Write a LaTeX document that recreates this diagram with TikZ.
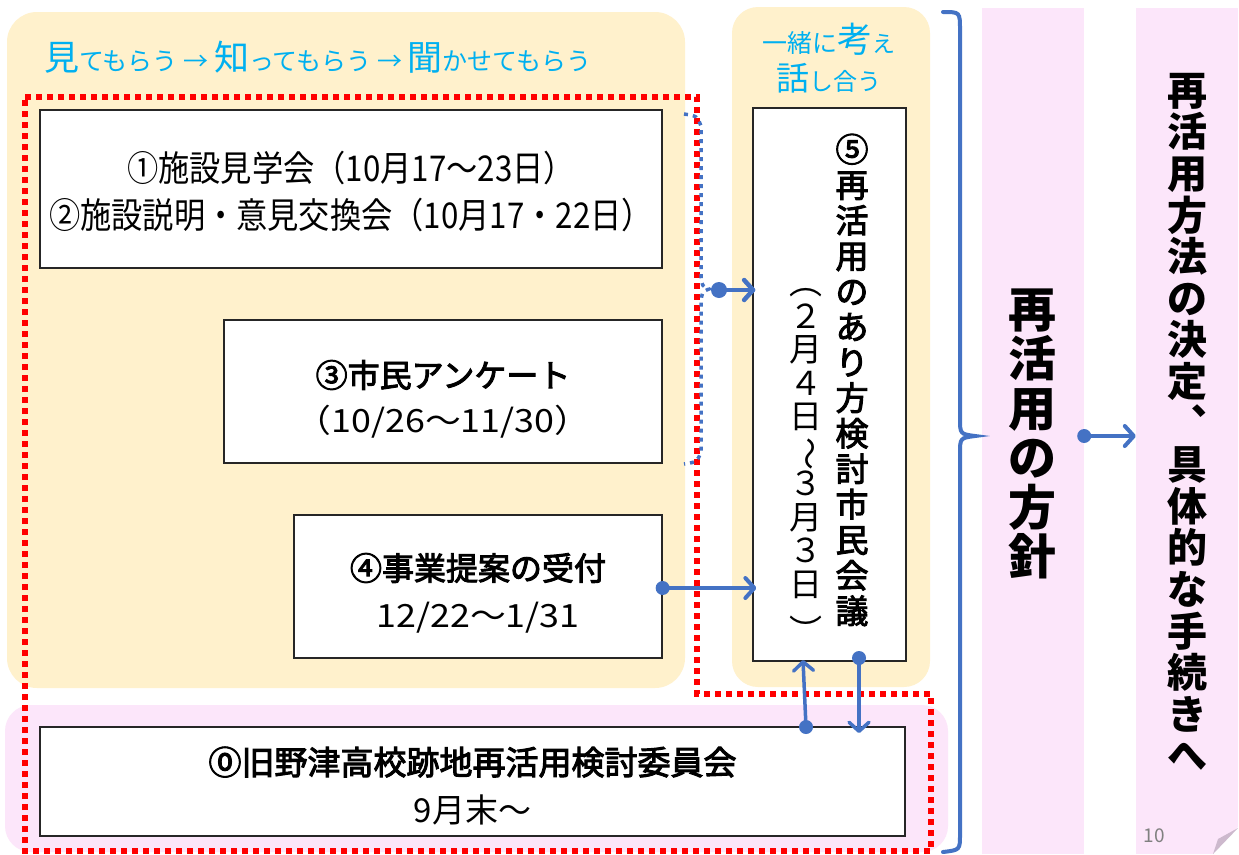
\documentclass[tikz,border=0pt]{standalone}
\usepackage{fontspec}
\setmainfont{Noto Sans CJK JP}
\newfontfamily\condjp[FakeStretch=0.88]{Noto Sans CJK JP}
\newfontfamily\widejp[FakeStretch=1.12]{Noto Sans CJK JP}
\newfontfamily\medjp[FakeBold=3]{Noto Sans CJK JP}
\usetikzlibrary{arrows.meta}
\definecolor{beige}{HTML}{FFF1CC}
\definecolor{pinkbg}{HTML}{FCE6FA}
\definecolor{myblue}{HTML}{4472C4}
\definecolor{mycyan}{HTML}{00B0F0}
\definecolor{foldc}{HTML}{CDB9CD}
\definecolor{dotred}{HTML}{FF0000}
\tikzset{
  box/.style={draw=black!85, line width=1.3pt, fill=white, inner sep=0pt},
  boxtxt/.style={align=center, inner sep=0pt, text=black},
  vcol/.style={align=center, inner sep=0pt, text=black},
  conn/.style={draw=myblue, line width=4.5pt, line cap=round,
    -{Straight Barb[length=9pt,width=20pt,round]}},
  bdot/.style={fill=myblue},
  redline/.style={draw=dotred, line width=6pt, dash pattern=on 6pt off 5pt},
}
\newcommand{\fs}[2]{\fontsize{#1}{#2}\selectfont\lineskiplimit=-50pt\relax}
\begin{document}
\begin{tikzpicture}[x=1pt,y=-1pt]
\fill[white] (0,0) rectangle (1239,854);
\useasboundingbox (0,0) rectangle (1239,854);

% background panels
\fill[beige, rounded corners=30pt] (7,12) rectangle (685,688);
\fill[beige, rounded corners=26pt] (732,7) rectangle (930,687);
\fill[pinkbg, rounded corners=26pt] (5,705) rectangle (948,852);
\node[fill=pinkbg, inner sep=0, minimum width=102pt, minimum height=846pt] (pc1) at (1033,431) {};
\node[fill=pinkbg, inner sep=0, minimum width=102pt, minimum height=846pt] (pc2) at (1187,431) {};
\fill[white] (1213,854) -- (1239,854) -- (1239,826) -- cycle;
\fill[foldc] (1213,854) -- (1218,839) -- (1238,828) -- cycle;
\node[text=black!50, font=\fs{19}{19}, inner sep=0] (pg) at (1154,836) {10};

% headings
\node[anchor=base west, text=mycyan, inner sep=0] (head1) at (44,70)
  {\fs{35}{35}見\fs{25}{25}てもらう → \fs{35}{35}知\fs{25}{25}ってもらう → \fs{35}{35}聞\fs{25}{25}かせてもらう};
\node[anchor=base, text=mycyan, inner sep=0] (head2) at (829,52)
  {\fs{25}{25}一緒に\fs{35}{35}考\fs{23}{23}え};
\node[anchor=base, text=mycyan, inner sep=0] (head3) at (829,90)
  {\fs{33}{33}話\fs{24}{24}し合う};

% boxes
\node[box, minimum width=622pt, minimum height=158pt] (b1) at (351,189) {};
\node[boxtxt, font=\condjp\fs{35.5}{47}] (t1) at (351,192)
  {①施設見学会（10月17～23日）\\②施設説明・意見交換会（10月17・22日）};
\node[box, minimum width=438pt, minimum height=143pt] (b3) at (443,391.5) {};
\node[boxtxt, font=\fs{32}{45}] (t3) at (443,399)
  {{\medjp ③市民アンケート}\\{\widejp （10/26～11/30）}};
\node[box, minimum width=368pt, minimum height=143pt] (b4) at (478,586.5) {};
\node[boxtxt, font=\fs{32}{47}] (t4) at (478,593)
  {{\medjp ④事業提案の受付}\\{\widejp 12/22～1/31}};
\node[box, minimum width=865pt, minimum height=109pt] (b0) at (472.5,781.5) {};
\node[boxtxt, font=\fs{33}{48}] (t0) at (472.5,786)
  {{\medjp ⓪旧野津高校跡地再活用検討委員会}\\{9月末～}};
\node[box, minimum width=153pt, minimum height=553pt] (b5) at (829.5,384.5) {};
\node[vcol, font=\medjp\fs{33}{35.5}] (t5a) at (852,380)
  {⑤\\再\\活\\用\\の\\あ\\り\\方\\検\\討\\市\\民\\会\\議};
\node[vcol, font=\fs{33}{33.5}] (t5b) at (806,466)
  {︵\\２\\月\\４\\日\\\rotatebox[origin=c]{-90}{～}\\３\\月\\３\\日\\\raisebox{-14pt}{︶}};

% right columns text
\node[vcol, font=\fs{48}{49.5}\bfseries] (r1) at (1032,434)
  {再\\活\\用\\の\\方\\針};
\node[vcol, font=\fs{40}{41.6}\bfseries] (r2) at (1187,422)
  {再\\活\\用\\方\\法\\の\\決\\定\\︑\\具\\体\\的\\な\\手\\続\\き\\へ};

% red dotted frame
\draw[redline] (25,97) -- (697,97) -- (697,694) -- (931,694) -- (931,851) -- (25,851) -- cycle;

% small dashed brace
\draw[myblue, line width=3.5pt, dash pattern=on 4pt off 5pt]
  (684,114) .. controls (697,116) .. (701,126) -- (701,276)
  .. controls (702,286) .. (709,289) .. controls (702,292) .. (701,302)
  -- (701,452) .. controls (697,462) .. (684,464);
\coordinate (btip) at (719,290);
\fill[bdot] (btip) circle (8pt);
\draw[conn] (btip) -- ([xshift=3pt]b5.west |- btip);

% arrow from 4
\fill[bdot] (b4.east |- 0,588) circle (7pt);
\draw[conn, line width=4pt] (b4.east |- 0,588) -- ([xshift=4pt]b5.west |- 0,588);

% arrows between 5 and 0
\coordinate (up0) at (806,727);
\coordinate (up5) at (803,660);
\fill[bdot] (up0) circle (7pt);
\draw[conn, line width=3.5pt] (up0) -- (up5);
\coordinate (dn5) at (859,658);
\coordinate (dn0) at (859,733);
\fill[bdot] (dn5) circle (7pt);
\draw[conn, line width=3.5pt] (dn5) -- (dn0);

% big brace
\draw[myblue, line width=4pt, line cap=round]
  (943,12) .. controls (960,12) .. (960,30) -- (960,418)
  .. controls (960,434) .. (975,436) .. controls (960,438) .. (960,454)
  -- (960,834) .. controls (960,850) .. (943,852);

% arrow between right columns
\fill[bdot] (pc1.east |- 0,436) circle (7pt);
\draw[conn, line width=4pt] (pc1.east |- 0,436) -- (pc2.west |- 0,436);
\end{tikzpicture}
\end{document}
